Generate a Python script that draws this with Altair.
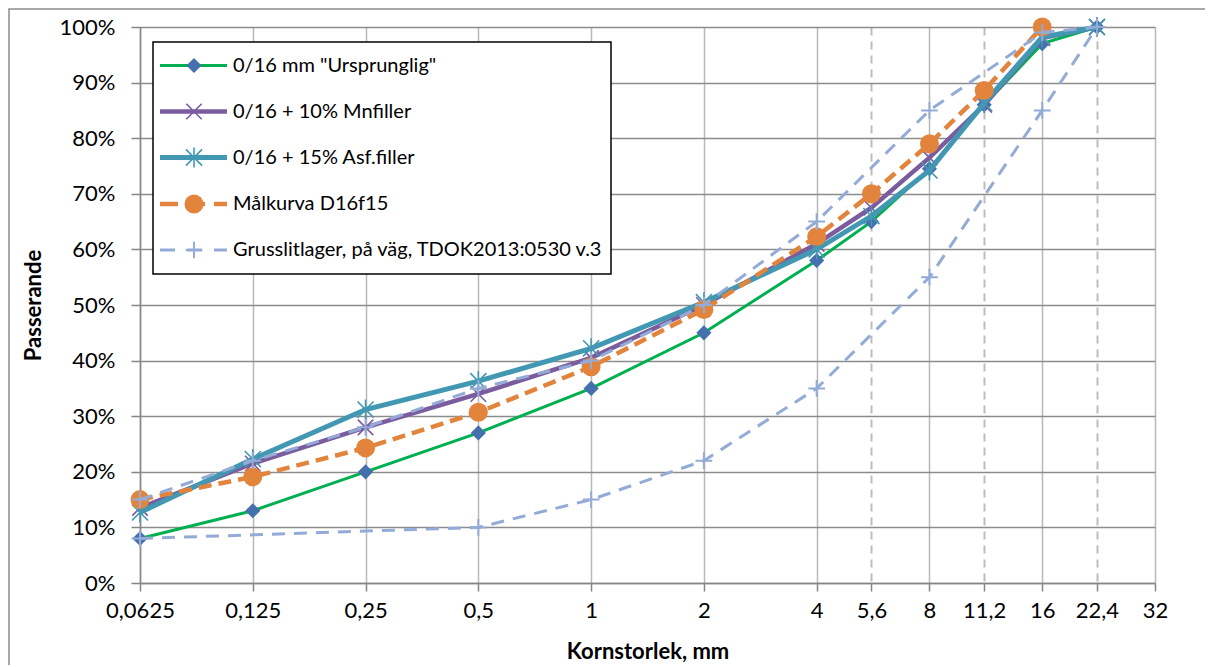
import altair as alt
import pandas as pd

# ---------------- data ----------------
sieves = [0.0625, 0.125, 0.25, 0.5, 1, 2, 4, 5.6, 8, 11.2, 16, 22.4]
ursprunglig = [8, 13, 20, 27, 35, 45, 58, 65, 74.5, 86, 97, 100]
mnfiller = [13.5, 21.5, 28, 34, 40.5, 50, 61, 67.5, 76.5, 86, 98, 100]
asffiller = [12.7, 22.3, 31.2, 36.3, 42.2, 50.5, 60, 66, 74.2, 86.3, 98.2, 100]

malkurva_sieves = [0.0625, 0.125, 0.25, 0.5, 1, 2, 4, 5.6, 8, 11.2, 16]
malkurva = [15, 19.1, 24.3, 30.7, 38.9, 49.2, 62.3, 70, 79, 88.6, 100]

env_lower_sieves = [0.0625, 0.5, 1, 2, 4, 8, 16, 22.4]
env_lower = [8, 10, 15, 22, 35, 55, 85, 100]
env_upper_sieves = [0.0625, 0.125, 0.25, 0.5, 1, 2, 4, 8, 16, 22.4]
env_upper = [15, 22, 28, 35, 40, 50, 65, 85, 99, 100]

series_names = [
    '0/16 mm "Ursprunglig"',
    "0/16 + 10% Mnfiller",
    "0/16 + 15% Asf.filler",
    "Målkurva D16f15",
    "Grusslitlager, på väg, TDOK2013:0530 v.3",
]

x_ticks = [0.0625, 0.125, 0.25, 0.5, 1, 2, 4, 5.6, 8, 11.2, 16, 22.4, 32]
y_ticks = list(range(0, 101, 10))

# ---------------- styles ----------------
FONT = "Lato"
GREEN = "#00B050"
DIAMOND = "#4470AE"
PURPLE = "#7A5C9F"
TEAL = "#4298B3"
ORANGE = "#E2843C"
LBLUE = "#93ABD6"

SHAPE_X = "M-1,-1L1,1M-1,1L1,-1"
SHAPE_AST = "M-1,-1L1,1M-1,1L1,-1M0,-1.25L0,1.25"
SHAPE_PLUS = "M-1,0L1,0M0,-1L0,1"


def frame(xs, ys):
    return pd.DataFrame({"size": xs, "pct": ys, "ord": list(range(len(xs)))})


df_u = frame(sieves, ursprunglig)
df_m = frame(sieves, mnfiller)
df_a = frame(sieves, asffiller)
df_t = frame(malkurva_sieves, malkurva)
env_x = env_lower_sieves + env_upper_sieves[::-1]
env_y = env_lower + env_upper[::-1]
df_e = frame(env_x, env_y)

dash_test = "datum.value == 5.6 || datum.value == 11.2 || datum.value == 22.4"

X = alt.X(
    "size:Q",
    scale=alt.Scale(type="log", base=2, domain=[0.0625, 32], nice=False, zero=False),
    axis=alt.Axis(
        values=x_ticks,
        labelExpr="replace(toString(datum.value), '.', ',')",
        labelOverlap=False,
        labelFlush=False,
        labelFontSize=22,
        labelColor="#000000",
        labelPadding=9,
        tickSize=8,
        tickColor="#868686",
        tickWidth=1.5,
        domainColor="#868686",
        domainWidth=1.5,
        gridColor={"condition": {"test": dash_test, "value": "#BDBDBD"}, "value": "#B8B8B8"},
        gridDash={"condition": {"test": dash_test, "value": [8, 6]}, "value": []},
        gridWidth={"condition": {"test": dash_test, "value": 2}, "value": 1.5},
        title="Kornstorlek, mm",
        titleFontSize=22,
        titleFontWeight="bold",
        titleColor="#000000",
        titlePadding=20,
    ),
)

Y = alt.Y(
    "pct:Q",
    scale=alt.Scale(domain=[0, 100], nice=False),
    axis=alt.Axis(
        values=y_ticks,
        labelExpr="datum.value + '%'",
        labelFontSize=22,
        labelColor="#000000",
        labelPadding=16,
        tickSize=9,
        tickColor="#868686",
        tickWidth=1.5,
        domainColor="#868686",
        domainWidth=1.5,
        gridColor="#8C8C8C",
        gridWidth=1.5,
        title="Passerande",
        titleFontSize=22,
        titleFontWeight="bold",
        titleColor="#000000",
        titlePadding=14,
    ),
)

ORD = alt.Order("ord:Q")

layers = []

# outer chart border (Excel chart area)
one = pd.DataFrame({"a": [0]})
layers.append(
    alt.Chart(one).mark_rect(fill=None, stroke="#8C8C8C", strokeWidth=1.5).encode(
        x=alt.value(-131), x2=alt.value(1200), y=alt.value(-18), y2=alt.value(800)
    )
)

# series 1: green line with diamonds
layers.append(alt.Chart(df_u).mark_line(color=GREEN, strokeWidth=3).encode(x=X, y=Y, order=ORD))
layers.append(
    alt.Chart(df_u).mark_point(shape="diamond", filled=True, fill=DIAMOND, opacity=1, size=230, strokeWidth=0).encode(x=X, y=Y)
)
# series 2: purple with x markers
layers.append(alt.Chart(df_m).mark_line(color=PURPLE, strokeWidth=4.5).encode(x=X, y=Y, order=ORD))
layers.append(
    alt.Chart(df_m).mark_point(shape=SHAPE_X, filled=False, stroke=PURPLE, opacity=1, size=240, strokeWidth=1.6).encode(x=X, y=Y)
)
# series 3: teal with asterisks
layers.append(alt.Chart(df_a).mark_line(color=TEAL, strokeWidth=5).encode(x=X, y=Y, order=ORD))
layers.append(
    alt.Chart(df_a).mark_point(shape=SHAPE_AST, filled=False, stroke=TEAL, opacity=1, size=260, strokeWidth=1.6).encode(x=X, y=Y)
)
# series 4: orange dashed with circles
layers.append(
    alt.Chart(df_t).mark_line(color=ORANGE, strokeWidth=4.5, strokeDash=[13, 7]).encode(x=X, y=Y, order=ORD)
)
layers.append(
    alt.Chart(df_t).mark_point(shape="circle", filled=True, fill=ORANGE, opacity=1, size=360, strokeWidth=0).encode(x=X, y=Y)
)
# series 5: light blue dashed envelope with plus markers
layers.append(
    alt.Chart(df_e).mark_line(color=LBLUE, strokeWidth=3, strokeDash=[13, 9]).encode(x=X, y=Y, order=ORD)
)
layers.append(
    alt.Chart(df_e).mark_point(shape=SHAPE_PLUS, filled=False, stroke=LBLUE, opacity=1, size=280, strokeWidth=2).encode(x=X, y=Y)
)

# ---------------- legend box ----------------
layers.append(
    alt.Chart(one).mark_rect(fill="white", stroke="#000000", strokeWidth=1.5).encode(
        x=alt.value(13), x2=alt.value(471), y=alt.value(15), y2=alt.value(247)
    )
)
leg_y = [38.5, 84.5, 130.5, 177, 223]
lx1, lx2, lm, lt = 20, 87, 54, 93
leg_specs = [
    dict(color=GREEN, width=3, dash=None, mshape="diamond", mfill=DIAMOND, msize=230, mstroke=None, msw=0),
    dict(color=PURPLE, width=4.5, dash=None, mshape=SHAPE_X, mfill=None, msize=240, mstroke=PURPLE, msw=1.6),
    dict(color=TEAL, width=5, dash=None, mshape=SHAPE_AST, mfill=None, msize=260, mstroke=TEAL, msw=1.6),
    dict(color=ORANGE, width=4.5, dash=[18, 9], mshape="circle", mfill=ORANGE, msize=360, mstroke=None, msw=0),
    dict(color=LBLUE, width=3, dash=[15, 12], mshape=SHAPE_PLUS, mfill=None, msize=280, mstroke=LBLUE, msw=2),
]
for name, yy, s in zip(series_names, leg_y, leg_specs):
    line_kw = dict(color=s["color"], strokeWidth=s["width"])
    if s["dash"]:
        line_kw["strokeDash"] = s["dash"]
    layers.append(
        alt.Chart(one).mark_rule(**line_kw).encode(x=alt.value(lx1), x2=alt.value(lx2), y=alt.value(yy))
    )
    if s["mfill"]:
        pkw = dict(shape=s["mshape"], filled=True, fill=s["mfill"], opacity=1, size=s["msize"], strokeWidth=0)
    else:
        pkw = dict(shape=s["mshape"], filled=False, stroke=s["mstroke"], opacity=1, size=s["msize"], strokeWidth=s["msw"])
    layers.append(alt.Chart(one).mark_point(**pkw).encode(x=alt.value(lm), y=alt.value(yy)))
    layers.append(
        alt.Chart(one)
        .mark_text(align="left", baseline="middle", fontSize=20, font=FONT, color="#000000")
        .encode(x=alt.value(lt), y=alt.value(yy), text=alt.value(name))
    )

chart = (
    alt.layer(*layers)
    .properties(
        width=1015,
        height=556,
        autosize=alt.AutoSizeParams(type="none"),
        padding={"left": 132, "top": 19, "right": 50, "bottom": 82},
    )
    .configure(font=FONT)
    .configure_view(stroke=None)
)

chart.save("out.html", embed_options={"renderer": "svg", "actions": False})
